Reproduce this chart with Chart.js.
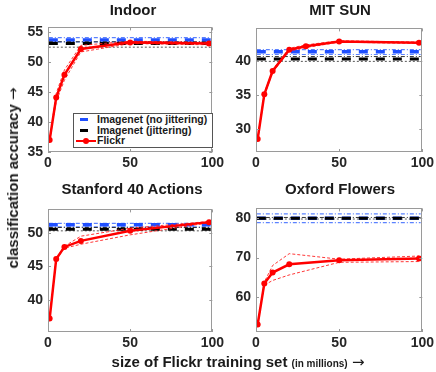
<!DOCTYPE html>
<html>
<head>
<meta charset="utf-8">
<script src="https://cdn.jsdelivr.net/npm/chart.js@4.4.1/dist/chart.umd.min.js"></script>
<style>
  body { margin:0; background:#fff; }
  #wrap { position:relative; width:436px; height:372px; overflow:hidden; font-family:"Liberation Sans", Arial, sans-serif; font-weight:bold; color:#1a1a1a; }
  canvas { position:absolute; }
  .lbl { position:absolute; transform:translate(-50%,-50%); white-space:nowrap; font-size:15px; }
  .arr { font-family:"DejaVu Sans", sans-serif; font-weight:normal; font-size:15px; }
  #ylab { transform:translate(-50%,-50%) rotate(-90deg); }
  #legend { position:absolute; left:73px; top:113px; width:138px; height:33px; background:#fff; border:1px solid #555; font-size:10.5px; }
  #legend div { position:absolute; left:23px; line-height:11px; }
  .sw { position:absolute; }
</style>
</head>
<body>
<div id="wrap">
  <canvas id="c0" width="219" height="160" style="left:8px;top:14px"></canvas>
  <canvas id="c1" width="221" height="159" style="left:216px;top:15px"></canvas>
  <canvas id="c2" width="219" height="158" style="left:8px;top:196px"></canvas>
  <canvas id="c3" width="221" height="159" style="left:216px;top:195px"></canvas>

  <div class="lbl" style="left:133px;top:9px">Indoor</div>
  <div class="lbl" style="left:340px;top:9px">MIT SUN</div>
  <div class="lbl" style="left:132px;top:188px">Stanford 40 Actions</div>
  <div class="lbl" style="left:340px;top:188px">Oxford Flowers</div>
  <div class="lbl" id="ylab" style="left:13px;top:178px">classification accuracy <span class="arr">&rarr;</span></div>
  <div class="lbl" style="left:238px;top:362px">size of Flickr training set <span style="font-size:10px">(in millions)</span> <span class="arr">&rarr;</span></div>

  <div id="legend">
    <span class="sw" style="left:6px;top:4px;width:8px;height:3px;background:#1f4fff"></span>
    <div style="top:0px">Imagenet (no jittering)</div>
    <span class="sw" style="left:6px;top:15px;width:8px;height:3px;background:#000"></span>
    <div style="top:11px">Imagenet (jittering)</div>
    <span class="sw" style="left:2px;top:26px;width:20px;height:2px;background:#f00"></span>
    <span class="sw" style="left:9px;top:24px;width:6px;height:6px;border-radius:50%;background:#f00"></span>
    <div style="top:21px">Flickr</div>
  </div>
</div>
<script>
// one entry per panel: Indoor, MIT SUN, Stanford 40 Actions, Oxford Flowers
const panels = ['Indoor', 'MIT SUN', 'Stanford 40 Actions', 'Oxford Flowers'];

const flickrX = [
  [1, 5, 10, 20, 50, 98],
  [1, 5, 10, 20, 30, 50, 98],
  [1, 5, 10, 20, 50, 98],
  [1, 5, 10, 20, 50, 98]
];
const flickrMean = [
  [37.0, 44.1, 47.9, 52.2, 53.3, 53.1],
  [28.6, 35.1, 38.5, 41.6, 42.1, 42.8, 42.6],
  [37.2, 46.1, 47.9, 48.8, 50.3, 51.6],
  [53.0, 63.4, 66.2, 68.3, 69.3, 69.8]
];
const flickrHigh = [
  [37.0, 44.8, 48.7, 52.8, 53.5, 53.3],
  [28.7, 35.3, 38.7, 41.8, 42.3, 42.9, 42.7],
  [37.2, 46.2, 48.0, 49.5, 50.7, 51.7],
  [53.0, 63.8, 68.0, 71.0, 69.6, 70.4]
];
const flickrLow = [
  [37.0, 43.4, 47.0, 51.7, 53.1, 52.9],
  [28.5, 34.9, 38.3, 41.4, 41.9, 42.7, 42.5],
  [37.2, 46.0, 47.7, 48.3, 49.7, 51.5],
  [53.0, 63.0, 64.2, 65.6, 68.8, 69.0]
];

const baseX = [0.5, 99];
const noJitMean = [53.7, 41.3, 51.2, 80.0];
const noJitHigh = [54.1, 41.6, 51.4, 81.1];
const noJitLow  = [53.4, 40.9, 50.9, 78.9];
const jitMean   = [53.1, 40.25, 50.55, 80.0];
const jitHigh   = [53.4, 40.6, 50.8, 80.2];
const jitLow    = [52.5, 39.9, 50.3, 79.8];

const yMin = [35, 26.7, 35.2, 51.1];
const yMax = [55.8, 44.7, 53.5, 82.5];
const yTicks = [[35, 40, 45, 50, 55], [30, 35, 40], [40, 45, 50], [60, 70, 80]];
const xTicks = [0, 50, 100];

const pts = (xs, ys) => xs.map((x, i) => ({ x, y: ys[i] }));
const flat = (v) => pts(baseX, baseX.map(() => v));

// matlab-ish box with inward ticks
const boxPlugin = {
  id: 'box',
  afterDraw(chart) {
    const { ctx, chartArea: a, scales } = chart;
    ctx.save();
    ctx.strokeStyle = '#9a9a9a';
    ctx.lineWidth = 1;
    ctx.strokeRect(Math.round(a.left) + 0.5, Math.round(a.top) + 0.5, Math.round(a.width) - 1, Math.round(a.height) - 1);
    ctx.beginPath();
    scales.x.ticks.forEach(t => {
      const x = Math.round(scales.x.getPixelForValue(t.value)) + 0.5;
      ctx.moveTo(x, a.bottom); ctx.lineTo(x, a.bottom - 3);
      ctx.moveTo(x, a.top); ctx.lineTo(x, a.top + 3);
    });
    scales.y.ticks.forEach(t => {
      const y = Math.round(scales.y.getPixelForValue(t.value)) + 0.5;
      ctx.moveTo(a.left, y); ctx.lineTo(a.left + 3, y);
      ctx.moveTo(a.right, y); ctx.lineTo(a.right - 3, y);
    });
    ctx.stroke();
    ctx.restore();
  }
};

const tickFont = { family: '"Liberation Sans", Arial, sans-serif', size: 14, weight: 'bold' };

panels.forEach((name, p) => {
  const thin = (ys, color) => ({ data: pts(flickrX[p], ys), borderColor: color, borderWidth: 0.9, borderDash: [3, 2], pointRadius: 0 });
  new Chart(document.getElementById('c' + p).getContext('2d'), {
    type: 'line',
    data: {
      datasets: [
        { label: 'Flickr', data: pts(flickrX[p], flickrMean[p]), borderColor: '#ff0000', backgroundColor: '#ff0000', borderWidth: 2.5, pointRadius: 3, pointBorderWidth: 0 },
        thin(flickrHigh[p], '#ff2020'),
        thin(flickrLow[p], '#ff2020'),
        { label: 'Imagenet (jittering)', data: flat(jitMean[p]), borderColor: '#000', borderWidth: 3, borderDash: [9, 8], pointRadius: 0 },
        { data: flat(jitHigh[p]), borderColor: '#333', borderWidth: 1, borderDash: [4, 2, 1, 2], pointRadius: 0 },
        { data: flat(jitLow[p]), borderColor: '#555', borderWidth: 1, borderDash: [2, 2], pointRadius: 0 },
        { label: 'Imagenet (no jittering)', data: flat(noJitMean[p]), borderColor: '#1f4fff', borderWidth: 3.5, borderDash: [9, 8], pointRadius: 0 },
        { data: flat(noJitHigh[p]), borderColor: '#5b82ff', borderWidth: 1.2, borderDash: [4, 2, 1, 2], pointRadius: 0 },
        { data: flat(noJitLow[p]), borderColor: '#5b82ff', borderWidth: 1.2, borderDash: [4, 2, 1, 2], pointRadius: 0 }
      ]
    },
    options: {
      responsive: false,
      animation: false,
      devicePixelRatio: 1,
      layout: { padding: { top: 6, right: 14, left: 0, bottom: 0 } },
      plugins: { legend: { display: false }, tooltip: { enabled: false } },
      scales: {
        x: {
          type: 'linear', min: 0, max: 100,
          grid: { display: false, drawTicks: false }, border: { display: false },
          ticks: { font: tickFont, color: '#262626', padding: 3, maxRotation: 0 },
          afterBuildTicks: s => { s.ticks = xTicks.map(v => ({ value: v })); },
          afterFit: s => { s.height = 22; }
        },
        y: {
          type: 'linear', min: yMin[p], max: yMax[p],
          grid: { display: false, drawTicks: false }, border: { display: false },
          ticks: { font: tickFont, color: '#262626', padding: 5 },
          afterBuildTicks: s => { s.ticks = yTicks[p].map(v => ({ value: v })); },
          afterFit: s => { s.width = 40; }
        }
      }
    },
    plugins: [boxPlugin]
  });
});
</script>
</body>
</html>
